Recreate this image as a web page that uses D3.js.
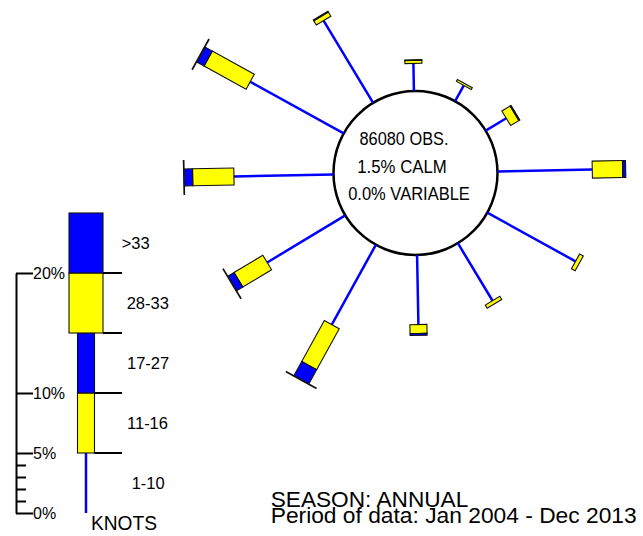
<!DOCTYPE html>
<html><head><meta charset="utf-8">
<script src="https://cdn.jsdelivr.net/npm/d3@7"></script>
<style>body{margin:0;background:#fff}svg{display:block}text{font-family:"Liberation Sans",Arial,sans-serif;fill:#000}</style>
</head><body>
<script>
// ---- data ----
const directions = [0, 30, 60, 90, 120, 150, 180, 210, 240, 270, 300, 330];
const speedClasses = ["1-10", "11-16", "17-27", "28-33", ">33"];
const pct1_10   = [2.3, 1.5, 2.0, 7.9, 8.4, 5.6, 5.8, 7.6, 7.6, 8.3, 8.9, 8.0];
const pct11_16  = [0.25, 0.18, 0.8, 2.53, 0.35, 0.3, 0.75, 3.9, 2.8, 3.44, 4.0, 0.4];
const pct17_27  = [0.05, 0, 0.1, 0.25, 0, 0, 0.15, 1.35, 0.6, 0.7, 0.7, 0.08];
const pct28_33  = [0, 0, 0, 0, 0, 0, 0, 0.05, 0.05, 0.05, 0.05, 0];
const pctOver33 = [0, 0, 0, 0, 0, 0, 0, 0, 0, 0, 0, 0];
const legendSegment = [5, 5, 5, 5, 5];
const axisTicks = [0, 5, 10, 20];
const minorTicks = [1, 2, 3, 4];
const centerLines = ["86080 OBS.", "1.5% CALM", "0.0% VARIABLE"];
const titleLines = ["SEASON: ANNUAL", "Period of data: Jan 2004 - Dec 2013"];

// ---- styling ----
const W = 643, H = 536;
const BLUE = "#0000ff", YELLOW = "#ffff00";
const segColor = [BLUE, YELLOW, BLUE, YELLOW, BLUE];
const segWidth = [0, 17, 17, 34, 34];
const cx = 415.5, cy = 173, R = 82, rot = -1.1, pxPerPct = 12;

const svg = d3.select("body").append("svg").attr("width", W).attr("height", H);

const series = [pct1_10, pct11_16, pct17_27, pct28_33, pctOver33];
const rScale = d3.scaleLinear().domain([0, 20]).range([R, R + 20 * pxPerPct]);

// circle
svg.append("circle").attr("cx", cx).attr("cy", cy).attr("r", R)
  .attr("fill", "#fff").attr("stroke", "#000").attr("stroke-width", 2.5);

// spokes
directions.forEach((dir, i) => {
  const g = svg.append("g").attr("transform", `translate(${cx},${cy}) rotate(${dir + rot})`);
  let cum = 0;
  series.forEach((s, k) => {
    const v = s[i];
    const r0 = rScale(cum), r1 = rScale(cum + v);
    cum += v;
    if (v <= 0) return;
    if (k === 0) {
      g.append("line").attr("x1", 0).attr("x2", 0).attr("y1", -r0).attr("y2", -r1)
        .attr("stroke", BLUE).attr("stroke-width", 2.5);
    } else {
      g.append("rect").attr("x", -segWidth[k] / 2).attr("width", segWidth[k])
        .attr("y", -r1).attr("height", r1 - r0)
        .attr("fill", segColor[k]).attr("stroke", "#111").attr("stroke-width", 1.1);
    }
  });
});

// center text
const ctr = [[404, 145, 89], [402, 173.3, 89.4], [409, 200, 121.7]];
centerLines.forEach((t, i) => {
  svg.append("text").attr("x", ctr[i][0]).attr("y", ctr[i][1]).attr("text-anchor", "middle")
    .attr("font-size", 17.5).attr("textLength", ctr[i][2]).attr("lengthAdjust", "spacingAndGlyphs").text(t);
});

// legend
const ly = d3.scaleLinear().domain([0, 20]).range([513, 273]);
const lx = 86;
let cum = 0;
legendSegment.forEach((v, k) => {
  const y0 = ly(cum), y1 = ly(cum + v);
  cum += v;
  if (k === 0) {
    svg.append("line").attr("x1", lx).attr("x2", lx).attr("y1", y0).attr("y2", y1)
      .attr("stroke", BLUE).attr("stroke-width", 2.5);
  } else {
    svg.append("rect").attr("x", lx - segWidth[k] / 2).attr("width", segWidth[k])
      .attr("y", y1).attr("height", y0 - y1)
      .attr("fill", segColor[k]).attr("stroke", "#111").attr("stroke-width", 1.1);
  }
});
// boundary lines and labels
cum = 0;
const labelX = [131.7, 127, 127, 126.7, 121.7];
legendSegment.forEach((v, k) => {
  const yb = ly(cum), yt = ly(cum + v);
  svg.append("text").attr("x", labelX[k]).attr("y", (yb + yt) / 2 + 6).attr("font-size", 16.5).text(speedClasses[k]);
  cum += v;
  if (k < 4) {
    const xs = lx + Math.max(segWidth[k], segWidth[k + 1]) / 2;
    svg.append("line").attr("x1", xs).attr("x2", 122).attr("y1", ly(cum)).attr("y2", ly(cum))
      .attr("stroke", "#000").attr("stroke-width", 2);
  }
});
svg.append("text").attr("x", 91).attr("y", 530).attr("font-size", 20)
  .attr("textLength", 66).attr("lengthAdjust", "spacingAndGlyphs").text("KNOTS");

// axis
const ax = svg.append("g").attr("transform", "translate(16,0)")
  .call(d3.axisRight(ly).tickValues(axisTicks).tickSize(17).tickSizeOuter(0).tickPadding(0)
    .tickFormat(d => d + "%"));
ax.select(".domain").attr("stroke", "#000").attr("stroke-width", 2);
ax.selectAll(".tick line").attr("stroke", "#000").attr("stroke-width", 2);
ax.selectAll(".tick text").attr("font-size", 16).attr("font-family", '"Liberation Sans",Arial,sans-serif').attr("fill", "#000");
const mg = svg.append("g").attr("transform", "translate(16,0)")
  .call(d3.axisRight(ly).tickValues(minorTicks).tickSize(10).tickSizeOuter(0).tickFormat(""));
mg.select(".domain").remove();
mg.selectAll(".tick line").attr("stroke", "#000").attr("stroke-width", 2);

// title
svg.append("text").attr("x", 270.7).attr("y", 507.3).attr("font-size", 22)
  .attr("textLength", 197.6).attr("lengthAdjust", "spacingAndGlyphs").text(titleLines[0]);
svg.append("text").attr("x", 270.7).attr("y", 522.7).attr("font-size", 22)
  .attr("textLength", 366).attr("lengthAdjust", "spacingAndGlyphs").text(titleLines[1]);
</script>
</body></html>
